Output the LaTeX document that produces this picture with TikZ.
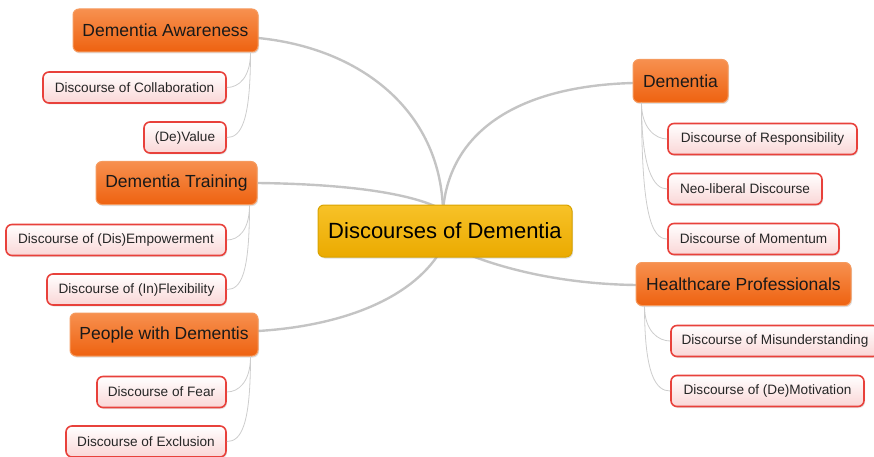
\documentclass[tikz,border=0pt]{standalone}
\usepackage{fontspec}
\setmainfont{Liberation Sans}
\usetikzlibrary{shadows}
\definecolor{orTop}{HTML}{F7904F}
\definecolor{orBot}{HTML}{EE6210}
\definecolor{orLine}{HTML}{F59A5E}
\definecolor{chTop}{HTML}{FFFFFF}
\definecolor{chBot}{HTML}{FAD6D6}
\definecolor{chLine}{HTML}{E8413B}
\definecolor{cTop}{HTML}{F7C228}
\definecolor{cBot}{HTML}{EBAA00}
\definecolor{cLine}{HTML}{D9A300}
\definecolor{mainLn}{HTML}{C4C4C4}
\definecolor{subLn}{HTML}{CDCDCD}
\tikzset{
  topicbox/.style={draw=orLine, line width=1pt, rounded corners=6pt, top color=orTop, bottom color=orBot,
    minimum height=43pt, inner xsep=0pt, font=\fontsize{17.5}{20}\selectfont, text=black!90,
    drop shadow={opacity=0.25, shadow xshift=1pt, shadow yshift=-1.5pt}},
  childbox/.style={draw=chLine, line width=1.6pt, rounded corners=6pt, top color=chTop, bottom color=chBot,
    minimum height=31pt, inner xsep=0pt, font=\fontsize{13.6}{15}\selectfont, text=black!85,
    drop shadow={opacity=0.2, shadow xshift=1pt, shadow yshift=-1.5pt}},
  centerbox/.style={draw=cLine, line width=1pt, rounded corners=6pt, top color=cTop, bottom color=cBot,
    minimum height=52pt, inner xsep=0pt, font=\fontsize{22}{26}\selectfont, text=black,
    drop shadow={opacity=0.25, shadow xshift=1pt, shadow yshift=-1.5pt}},
  mainline/.style={draw=mainLn, line width=2.4pt},
  subline/.style={draw=subLn, line width=0.8pt}
}
\begin{document}
\begin{tikzpicture}[x=1pt,y=-1pt]
\useasboundingbox (0,0) rectangle (874,457);
% connectors (drawn first)
\coordinate (cTopPt) at (443,210);
\coordinate (cBotPt) at (440,252);
\coordinate (cBotPtR) at (462,252);
\coordinate (daE) at (258,38);
\coordinate (dtE) at (258,183);
\coordinate (pdE) at (258,331);
\coordinate (dmW) at (633,83);
\coordinate (hpW) at (636,285);
\draw[mainline] (daE) .. controls (360,48) and (440,110) .. (cTopPt);
\draw[mainline] (dtE) .. controls (340,184) and (410,192) .. (cTopPt);
\draw[mainline] (pdE) .. controls (340,326) and (410,300) .. (cBotPt);
\draw[mainline] (dmW) .. controls (520,86) and (450,130) .. (cTopPt);
\draw[mainline] (hpW) .. controls (560,284) and (500,268) .. (cBotPtR);

% nodes
\node[centerbox, minimum width=254pt] (c) at (445,231) {Discourses of Dementia};

\node[topicbox, minimum width=185pt] (da) at (165.5,30.5) {Dementia Awareness};
\node[childbox, minimum width=183pt] (dcol) at (134.5,87.5) {Discourse of Collaboration};
\node[childbox, minimum width=82pt] (dval) at (185,137.5) {(De)Value};

\node[topicbox, minimum width=161pt] (dt) at (176.5,183) {Dementia Training};
\node[childbox, minimum width=220pt] (demp) at (116,240) {Discourse of (Dis)Empowerment};
\node[childbox, minimum width=179pt] (dflex) at (136.5,289.5) {Discourse of (In)Flexibility};

\node[topicbox, minimum width=188pt] (pd) at (164,334.5) {People with Dementis};
\node[childbox, minimum width=129pt] (dfear) at (161.5,392) {Discourse of Fear};
\node[childbox, minimum width=160pt] (dexc) at (146,441.5) {Discourse of Exclusion};

\node[topicbox, minimum width=95pt] (dm) at (680.5,81) {Dementia};
\node[childbox, minimum width=189pt] (dresp) at (762.5,139) {Discourse of Responsibility};
\node[childbox, minimum width=154pt] (dneo) at (745,189) {Neo-liberal Discourse};
\node[childbox, minimum width=171pt] (dmom) at (753.5,239) {Discourse of Momentum};

\node[topicbox, minimum width=215pt] (hp) at (743.5,284) {Healthcare Professionals};
\node[childbox, minimum width=208pt] (dmis) at (775,341) {Discourse of Misunderstanding};
\node[childbox, minimum width=193pt] (dmot) at (767.5,391) {Discourse of (De)Motivation};

% sub connectors
\draw[subline] ([xshift=-8pt]da.south east) .. controls +(0,25) and +(12,0) .. (dcol.east);
\draw[subline] ([xshift=-8pt]da.south east) .. controls +(0,70) and +(14,0) .. (dval.east);
\draw[subline] ([xshift=-8pt]dt.south east) .. controls +(0,25) and +(12,0) .. (demp.east);
\draw[subline] ([xshift=-8pt]dt.south east) .. controls +(0,70) and +(14,0) .. (dflex.east);
\draw[subline] ([xshift=-8pt]pd.south east) .. controls +(0,25) and +(12,0) .. (dfear.east);
\draw[subline] ([xshift=-8pt]pd.south east) .. controls +(0,70) and +(14,0) .. (dexc.east);

\draw[subline] ([xshift=9pt]dm.south west) .. controls +(0,25) and +(-12,0) .. (dresp.west);
\draw[subline] ([xshift=9pt]dm.south west) .. controls +(0,65) and +(-14,0) .. (dneo.west);
\draw[subline] ([xshift=9pt]dm.south west) .. controls +(0,110) and +(-16,0) .. (dmom.west);
\draw[subline] ([xshift=9pt]hp.south west) .. controls +(0,25) and +(-12,0) .. (dmis.west);
\draw[subline] ([xshift=9pt]hp.south west) .. controls +(0,70) and +(-14,0) .. (dmot.west);
\end{tikzpicture}
\end{document}
